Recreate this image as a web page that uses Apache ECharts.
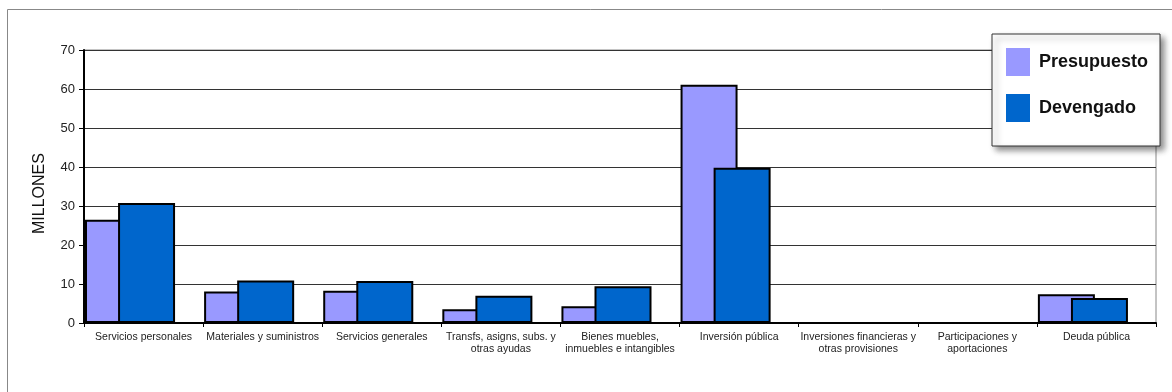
<!DOCTYPE html>
<html>
<head>
<meta charset="utf-8">
<script src="https://cdn.jsdelivr.net/npm/echarts@6/dist/echarts.min.js"></script>
<style>
html,body{margin:0;padding:0;background:#fff;}
#c{width:1172px;height:392px;}
</style>
</head>
<body>
<div id="c"></div>
<script>
var categories = [
  'Servicios personales',
  'Materiales y suministros',
  'Servicios generales',
  'Transfs, asigns, subs. y\notras ayudas',
  'Bienes muebles,\ninmuebles e intangibles',
  'Inversión pública',
  'Inversiones financieras y\notras provisiones',
  'Participaciones y\naportaciones',
  'Deuda pública'
];
var presupuesto = [26.5, 8.1, 8.3, 3.5, 4.3, 61.1, 0, 0, 7.4];
var devengado = [30.8, 10.9, 10.8, 7.0, 9.4, 39.8, 0, 0, 6.4];
var yTicks = [0, 10, 20, 30, 40, 50, 60, 70];

var chart = echarts.init(document.getElementById('c'));
var font = 'Arial, "Liberation Sans", sans-serif';
chart.setOption({
  animation: false,
  graphic: [{
    type: 'rect', z: -10, silent: true,
    shape: {x: 7.5, y: 9.5, width: 1400, height: 600},
    style: {fill: 'none', stroke: '#888', lineWidth: 1}
  }],
  grid: {left: 84, right: 16, top: 50, bottom: 69, show: true, borderColor: '#888', borderWidth: 1},
  legend: {
    data: [
      {name: 'Presupuesto'},
      {name: 'Devengado', textStyle: {padding: [16, 0, 0, 4]}}
    ],
    orient: 'vertical',
    left: 992, top: 34,
    itemWidth: 24, itemHeight: 28, itemGap: 18,
    icon: 'rect',
    itemStyle: {borderWidth: 0},
    padding: [14, 12, 24, 14],
    backgroundColor: '#fff',
    borderColor: '#333', borderWidth: 1,
    shadowColor: 'rgba(0,0,0,0.45)', shadowBlur: 6, shadowOffsetX: 4, shadowOffsetY: 4,
    textStyle: {fontFamily: font, fontSize: 18, fontWeight: 'bold', color: '#111', padding: [0, 0, 0, 4]}
  },
  xAxis: {
    type: 'category',
    data: categories,
    axisLine: {lineStyle: {color: '#000', width: 2}},
    axisTick: {show: true, length: 4, lineStyle: {color: '#000'}},
    axisLabel: {interval: 0, fontFamily: font, fontSize: 10.5, color: '#222', lineHeight: 12, margin: 8}
  },
  yAxis: {
    type: 'value', min: yTicks[0], max: yTicks[yTicks.length - 1], interval: 10,
    name: 'MILLONES', nameLocation: 'middle', nameGap: 36,
    nameTextStyle: {fontFamily: font, fontSize: 16, color: '#111', padding: [0, 14, 0, 0]},
    axisLine: {show: true, lineStyle: {color: '#000', width: 2}},
    axisTick: {show: true, length: 5, lineStyle: {color: '#000'}},
    axisLabel: {fontFamily: font, fontSize: 13, color: '#222', margin: 9},
    splitLine: {lineStyle: {color: '#333', width: 1}}
  },
  series: [
    {name: 'Presupuesto', type: 'bar', data: presupuesto, barWidth: 57, barGap: '-42%',
     itemStyle: {color: '#9999FF', borderColor: '#000', borderWidth: 2}},
    {name: 'Devengado', type: 'bar', data: devengado, barWidth: 57, barGap: '-42%',
     itemStyle: {color: '#0066CC', borderColor: '#000', borderWidth: 2}},
    {name: '', type: 'bar', data: [], barWidth: 51, barGap: '-42%', silent: true,
     itemStyle: {opacity: 0}}
  ]
});
</script>
</body>
</html>
